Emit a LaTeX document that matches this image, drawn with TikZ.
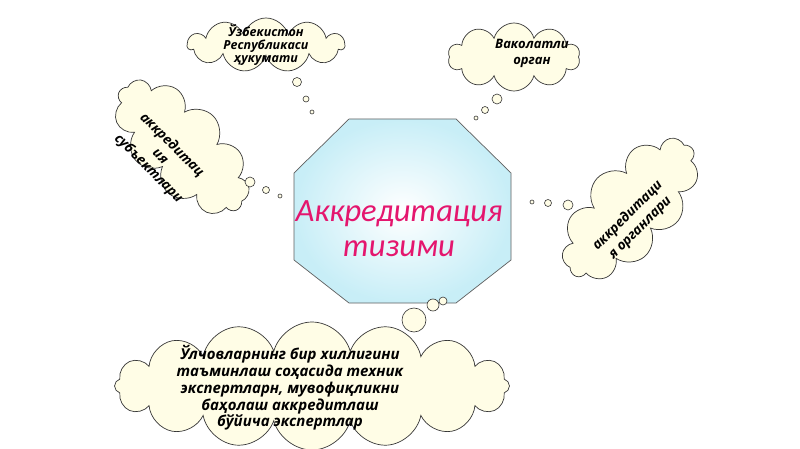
\documentclass[tikz,border=0pt]{standalone}
\usepackage{fontspec}
\setmainfont{Open Sans}
\newfontfamily\titlefont{Carlito}
\usetikzlibrary{shapes.symbols}
\definecolor{cloudfill}{RGB}{255,253,230}
\definecolor{cloudline}{RGB}{55,55,55}
\definecolor{octfill}{RGB}{200,238,247}
\definecolor{octline}{RGB}{95,95,95}
\definecolor{titlecol}{RGB}{228,22,110}
\begin{document}
\begin{tikzpicture}[x=1pt,y=-1pt,
  cloudbox/.style={cloud, cloud ignores aspect, draw=cloudline, fill=cloudfill, line width=0.7pt, inner sep=0pt},
  bubble/.style={circle, draw=cloudline, fill=cloudfill, line width=0.6pt, inner sep=0pt},
  cloudtext/.style={align=center, font=\bfseries\itshape, text=black, inner sep=0pt},
]
\useasboundingbox (0,0) rectangle (800,449);
\fill[white] (0,0) rectangle (800,449);

% central octagon
\shade[draw=octline, line width=0.7pt, inner color=white, outer color=octfill]
  (349,119) -- (456,119) -- (511,173) -- (511,260) -- (456,303) -- (349,303) -- (294,260) -- (294,173) -- cycle;
\node[align=center, text=titlecol, inner sep=0pt, font=\titlefont\itshape\fontsize{32.5}{35}\selectfont] (title) at (399,229) {Аккредитация\\тизими};

% top cloud 1
\node[cloudbox, minimum width=157pt, minimum height=54pt, cloud puffs=11] (c1) at (266,45) {};
\node[cloudtext, font=\bfseries\itshape\fontsize{12.5}{13}\selectfont] (t1) at (266,45) {Ўзбекистон\\Республикаси\\ҳукумати};
\node[bubble, minimum size=9pt] (b1a) at (297,82) {};
\node[bubble, minimum size=6pt] (b1b) at (306,99) {};
\node[bubble, minimum size=4pt] (b1c) at (312,112) {};

% top cloud 2
\node[cloudbox, minimum width=132pt, minimum height=68pt, cloud puffs=10] (c2) at (514,57) {};
\node[cloudtext, font=\bfseries\itshape\fontsize{13}{16}\selectfont] (t2) at (532,53) {Ваколатли\\орган};
\node[bubble, minimum size=10pt] (b2a) at (497,99) {};
\node[bubble, minimum size=7pt] (b2b) at (485,110) {};
\node[bubble, minimum size=4pt] (b2c) at (476,118) {};

% left rotated cloud
\node[cloudbox, rotate=-45, minimum width=168pt, minimum height=88pt, cloud puffs=11] (c3) at (182,147) {};
\node[cloudtext, rotate=-45, font=\bfseries\itshape\fontsize{13.5}{16.5}\selectfont] (t3) at (160,157) {аккредитац\\ия\\субъектлари};
\node[bubble, minimum size=10pt] (b3a) at (250,182) {};
\node[bubble, minimum size=7pt] (b3b) at (266,190) {};
\node[bubble, minimum size=4pt] (b3c) at (280,196) {};

% right rotated cloud
\node[cloudbox, rotate=47, minimum width=174pt, minimum height=90pt, cloud puffs=11] (c4) at (630,209) {};
\node[cloudtext, rotate=45, font=\bfseries\itshape\fontsize{13.5}{17.5}\selectfont] (t4) at (634,222) {аккредитаци\\я органлари};
\node[bubble, minimum size=10pt] (b4a) at (568,205) {};
\node[bubble, minimum size=7pt] (b4b) at (548,203) {};
\node[bubble, minimum size=4pt] (b4c) at (532,202) {};

% bottom cloud
\node[cloudbox, minimum width=395pt, minimum height=128pt, cloud puffs=16] (c5) at (312,386) {};
\node[cloudtext, font=\bfseries\itshape\fontsize{15}{16.8}\selectfont] (t5) at (290,388) {Ўлчовларнинг бир хиллигини\\таъминлаш соҳасида техник\\экспертларн, мувофиқликни\\баҳолаш аккредитлаш\\бўйича экспертлар};
\node[bubble, minimum size=24pt] (b5a) at (414,320) {};
\node[bubble, minimum size=12pt] (b5b) at (433,305) {};
\node[bubble, minimum size=8pt] (b5c) at (443,301) {};
\end{tikzpicture}
\end{document}
